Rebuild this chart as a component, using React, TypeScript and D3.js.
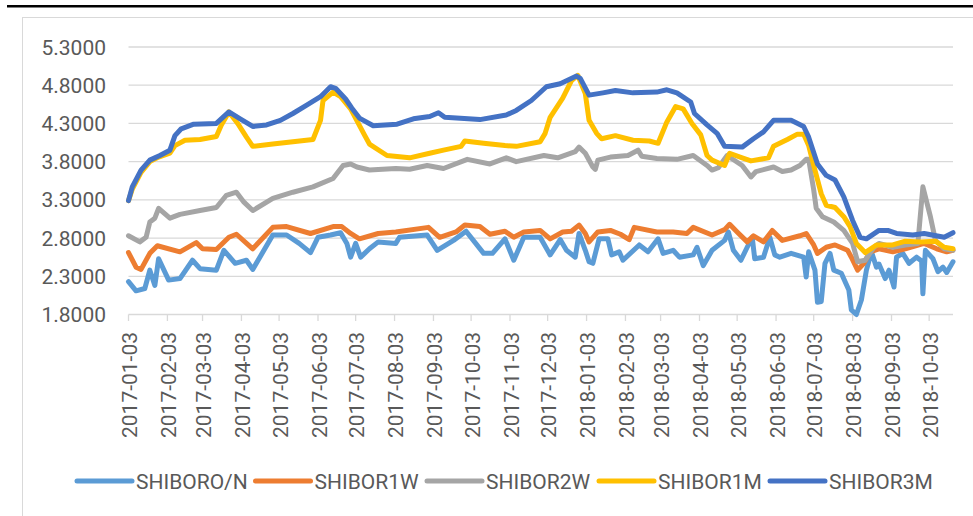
import React from "react";
import * as d3 from "d3";

type Pt = [string, number];

const seriesNames = ["SHIBORO/N", "SHIBOR1W", "SHIBOR2W", "SHIBOR1M", "SHIBOR3M"];
const seriesColors = ["#5B9BD5", "#ED7D31", "#A5A5A5", "#FFC000", "#4472C4"];
const yTicks = [1.8, 2.3, 2.8, 3.3, 3.8, 4.3, 4.8, 5.3];
const xTickDates = [
  "2017-01-03", "2017-02-03", "2017-03-03", "2017-04-03", "2017-05-03", "2017-06-03",
  "2017-07-03", "2017-08-03", "2017-09-03", "2017-10-03", "2017-11-03", "2017-12-03",
  "2018-01-03", "2018-02-03", "2018-03-03", "2018-04-03", "2018-05-03", "2018-06-03",
  "2018-07-03", "2018-08-03", "2018-09-03", "2018-10-03",
];
const dateDomain = ["2017-01-03", "2018-10-22"];

const shiborON: Pt[] = [
  ["2017-01-03", 2.23], ["2017-01-09", 2.11], ["2017-01-16", 2.14], ["2017-01-20", 2.38], ["2017-01-24", 2.18],
  ["2017-01-27", 2.53], ["2017-02-04", 2.25], ["2017-02-13", 2.27], ["2017-02-23", 2.51], ["2017-03-01", 2.40],
  ["2017-03-14", 2.38], ["2017-03-20", 2.64], ["2017-03-29", 2.47], ["2017-04-07", 2.51], ["2017-04-12", 2.39],
  ["2017-04-28", 2.84], ["2017-05-09", 2.84], ["2017-05-19", 2.73], ["2017-05-28", 2.61], ["2017-06-03", 2.81],
  ["2017-06-13", 2.84], ["2017-06-21", 2.87], ["2017-06-26", 2.73], ["2017-06-29", 2.55], ["2017-07-03", 2.73],
  ["2017-07-07", 2.55], ["2017-07-14", 2.66], ["2017-07-21", 2.75], ["2017-08-04", 2.73], ["2017-08-07", 2.81],
  ["2017-08-29", 2.84], ["2017-09-06", 2.64], ["2017-09-19", 2.77], ["2017-09-29", 2.89], ["2017-10-13", 2.60],
  ["2017-10-20", 2.60], ["2017-10-30", 2.79], ["2017-11-06", 2.51], ["2017-11-14", 2.81], ["2017-11-27", 2.81],
  ["2017-12-05", 2.58], ["2017-12-13", 2.78], ["2017-12-18", 2.64], ["2017-12-25", 2.55], ["2017-12-28", 2.86],
  ["2018-01-02", 2.64], ["2018-01-05", 2.49], ["2018-01-08", 2.47], ["2018-01-13", 2.79], ["2018-01-20", 2.79],
  ["2018-01-23", 2.58], ["2018-01-29", 2.62], ["2018-02-01", 2.51], ["2018-02-14", 2.71], ["2018-02-21", 2.62],
  ["2018-03-01", 2.79], ["2018-03-05", 2.60], ["2018-03-13", 2.64], ["2018-03-18", 2.55], ["2018-03-29", 2.58],
  ["2018-04-01", 2.68], ["2018-04-06", 2.44], ["2018-04-13", 2.64], ["2018-04-23", 2.77], ["2018-04-26", 2.88],
  ["2018-04-30", 2.64], ["2018-05-06", 2.51], ["2018-05-11", 2.68], ["2018-05-15", 2.81], ["2018-05-17", 2.53],
  ["2018-05-24", 2.55], ["2018-05-29", 2.81], ["2018-06-02", 2.58], ["2018-06-06", 2.55], ["2018-06-15", 2.60],
  ["2018-06-25", 2.55], ["2018-06-27", 2.29], ["2018-06-29", 2.62], ["2018-07-04", 2.38], ["2018-07-06", 1.96],
  ["2018-07-09", 1.97], ["2018-07-12", 2.47], ["2018-07-16", 2.60], ["2018-07-19", 2.38], ["2018-07-25", 2.34],
  ["2018-07-31", 2.12], ["2018-08-02", 1.86], ["2018-08-06", 1.80], ["2018-08-10", 1.99], ["2018-08-14", 2.38],
  ["2018-08-18", 2.62], ["2018-08-22", 2.42], ["2018-08-24", 2.46], ["2018-08-29", 2.27], ["2018-09-01", 2.38],
  ["2018-09-05", 2.16], ["2018-09-07", 2.55], ["2018-09-12", 2.60], ["2018-09-17", 2.47], ["2018-09-23", 2.55],
  ["2018-09-27", 2.50], ["2018-09-28", 2.07], ["2018-09-30", 2.64], ["2018-10-06", 2.53], ["2018-10-10", 2.36],
  ["2018-10-14", 2.42], ["2018-10-17", 2.35], ["2018-10-22", 2.49],
];

const shibor1W: Pt[] = [
  ["2017-01-03", 2.61], ["2017-01-09", 2.42], ["2017-01-13", 2.39], ["2017-01-20", 2.60], ["2017-01-26", 2.70],
  ["2017-02-13", 2.62], ["2017-02-26", 2.74], ["2017-03-03", 2.66], ["2017-03-14", 2.65], ["2017-03-24", 2.81],
  ["2017-03-30", 2.85], ["2017-04-12", 2.66], ["2017-04-28", 2.94], ["2017-05-09", 2.95], ["2017-05-28", 2.86],
  ["2017-06-15", 2.95], ["2017-06-22", 2.95], ["2017-06-29", 2.86], ["2017-07-06", 2.79], ["2017-07-21", 2.86],
  ["2017-08-04", 2.88], ["2017-08-30", 2.94], ["2017-09-08", 2.81], ["2017-09-21", 2.88], ["2017-09-28", 2.97],
  ["2017-10-10", 2.95], ["2017-10-18", 2.85], ["2017-10-30", 2.89], ["2017-11-06", 2.81], ["2017-11-14", 2.88],
  ["2017-11-27", 2.90], ["2017-12-05", 2.79], ["2017-12-15", 2.88], ["2017-12-22", 2.89], ["2017-12-28", 2.97],
  ["2018-01-02", 2.86], ["2018-01-05", 2.75], ["2018-01-12", 2.88], ["2018-01-22", 2.90], ["2018-01-30", 2.85],
  ["2018-02-06", 2.78], ["2018-02-10", 2.94], ["2018-02-28", 2.88], ["2018-03-13", 2.88], ["2018-03-24", 2.86],
  ["2018-03-29", 2.94], ["2018-04-13", 2.84], ["2018-04-23", 2.91], ["2018-04-27", 2.98], ["2018-05-03", 2.88],
  ["2018-05-11", 2.75], ["2018-05-16", 2.83], ["2018-05-24", 2.75], ["2018-05-31", 2.90], ["2018-06-08", 2.77],
  ["2018-06-22", 2.83], ["2018-06-27", 2.86], ["2018-07-03", 2.71], ["2018-07-06", 2.60], ["2018-07-13", 2.68],
  ["2018-07-20", 2.71], ["2018-07-30", 2.64], ["2018-08-02", 2.55], ["2018-08-07", 2.38], ["2018-08-12", 2.47],
  ["2018-08-17", 2.62], ["2018-08-24", 2.66], ["2018-09-04", 2.62], ["2018-09-14", 2.66], ["2018-09-29", 2.73],
  ["2018-10-09", 2.66], ["2018-10-17", 2.62], ["2018-10-22", 2.64],
];

const shibor2W: Pt[] = [
  ["2017-01-03", 2.83], ["2017-01-12", 2.75], ["2017-01-17", 2.81], ["2017-01-20", 3.01], ["2017-01-24", 3.06],
  ["2017-01-27", 3.19], ["2017-02-05", 3.06], ["2017-02-13", 3.11], ["2017-03-01", 3.16], ["2017-03-14", 3.20],
  ["2017-03-22", 3.36], ["2017-03-30", 3.40], ["2017-04-05", 3.27], ["2017-04-12", 3.16], ["2017-04-28", 3.32],
  ["2017-05-14", 3.40], ["2017-05-30", 3.47], ["2017-06-15", 3.58], ["2017-06-23", 3.75], ["2017-06-29", 3.77],
  ["2017-07-04", 3.73], ["2017-07-14", 3.69], ["2017-08-04", 3.71], ["2017-08-15", 3.70], ["2017-08-29", 3.75],
  ["2017-09-11", 3.71], ["2017-09-30", 3.83], ["2017-10-18", 3.77], ["2017-10-31", 3.85], ["2017-11-08", 3.80],
  ["2017-11-30", 3.88], ["2017-12-11", 3.85], ["2017-12-25", 3.93], ["2017-12-28", 3.99], ["2018-01-02", 3.91],
  ["2018-01-08", 3.73], ["2018-01-10", 3.70], ["2018-01-12", 3.82], ["2018-01-22", 3.86], ["2018-02-05", 3.88],
  ["2018-02-13", 3.95], ["2018-02-16", 3.87], ["2018-02-28", 3.84], ["2018-03-16", 3.83], ["2018-03-29", 3.88],
  ["2018-04-09", 3.75], ["2018-04-13", 3.69], ["2018-04-18", 3.72], ["2018-04-25", 3.88], ["2018-05-07", 3.75],
  ["2018-05-14", 3.60], ["2018-05-18", 3.67], ["2018-06-01", 3.73], ["2018-06-08", 3.67], ["2018-06-15", 3.69],
  ["2018-06-22", 3.75], ["2018-06-27", 3.83], ["2018-06-29", 3.83], ["2018-07-03", 3.43], ["2018-07-05", 3.19],
  ["2018-07-10", 3.08], ["2018-07-19", 3.01], ["2018-07-27", 2.90], ["2018-08-03", 2.73], ["2018-08-07", 2.49],
  ["2018-08-13", 2.51], ["2018-08-20", 2.68], ["2018-08-24", 2.73], ["2018-09-04", 2.68], ["2018-09-14", 2.71],
  ["2018-09-24", 2.73], ["2018-09-28", 3.47], ["2018-10-04", 3.08], ["2018-10-08", 2.77], ["2018-10-15", 2.66],
  ["2018-10-22", 2.64],
];

const shibor1M: Pt[] = [
  ["2017-01-03", 3.29], ["2017-01-06", 3.44], ["2017-01-13", 3.66], ["2017-01-20", 3.80], ["2017-01-27", 3.86],
  ["2017-02-05", 3.91], ["2017-02-09", 4.01], ["2017-02-17", 4.08], ["2017-03-01", 4.09], ["2017-03-14", 4.13],
  ["2017-03-18", 4.28], ["2017-03-24", 4.45], ["2017-03-31", 4.30], ["2017-04-07", 4.12], ["2017-04-12", 4.00],
  ["2017-04-28", 4.03], ["2017-05-30", 4.09], ["2017-06-05", 4.34], ["2017-06-07", 4.60], ["2017-06-15", 4.71],
  ["2017-06-21", 4.65], ["2017-06-29", 4.49], ["2017-07-10", 4.15], ["2017-07-14", 4.03], ["2017-07-28", 3.88],
  ["2017-08-15", 3.85], ["2017-08-31", 3.91], ["2017-09-11", 3.95], ["2017-09-25", 4.00], ["2017-09-28", 4.07],
  ["2017-10-13", 4.04], ["2017-10-30", 4.01], ["2017-11-08", 4.00], ["2017-11-27", 4.06], ["2017-12-01", 4.17],
  ["2017-12-05", 4.38], ["2017-12-15", 4.63], ["2017-12-22", 4.86], ["2017-12-27", 4.93], ["2018-01-02", 4.69],
  ["2018-01-05", 4.34], ["2018-01-11", 4.17], ["2018-01-15", 4.10], ["2018-01-26", 4.14], ["2018-02-09", 4.08],
  ["2018-02-22", 4.07], ["2018-03-01", 4.04], ["2018-03-08", 4.32], ["2018-03-15", 4.52], ["2018-03-21", 4.49],
  ["2018-03-28", 4.30], ["2018-04-04", 4.15], ["2018-04-09", 3.88], ["2018-04-13", 3.82], ["2018-04-23", 3.75],
  ["2018-04-27", 3.91], ["2018-05-07", 3.85], ["2018-05-14", 3.81], ["2018-05-28", 3.85], ["2018-06-01", 4.00],
  ["2018-06-12", 4.09], ["2018-06-20", 4.16], ["2018-06-25", 4.16], ["2018-06-29", 4.01], ["2018-07-04", 3.69],
  ["2018-07-09", 3.38], ["2018-07-13", 3.23], ["2018-07-20", 3.20], ["2018-07-27", 3.08], ["2018-08-01", 2.95],
  ["2018-08-06", 2.73], ["2018-08-13", 2.61], ["2018-08-22", 2.71], ["2018-09-04", 2.71], ["2018-09-14", 2.76],
  ["2018-09-26", 2.75], ["2018-10-08", 2.76], ["2018-10-15", 2.68], ["2018-10-22", 2.66],
];

const shibor3M: Pt[] = [
  ["2017-01-03", 3.29], ["2017-01-06", 3.47], ["2017-01-13", 3.69], ["2017-01-20", 3.82], ["2017-01-28", 3.88],
  ["2017-02-05", 3.95], ["2017-02-09", 4.14], ["2017-02-14", 4.23], ["2017-02-24", 4.29], ["2017-03-14", 4.30],
  ["2017-03-24", 4.45], ["2017-04-02", 4.36], ["2017-04-12", 4.26], ["2017-04-23", 4.28], ["2017-05-04", 4.34],
  ["2017-05-14", 4.43], ["2017-05-25", 4.54], ["2017-06-05", 4.65], ["2017-06-13", 4.78], ["2017-06-17", 4.76],
  ["2017-06-25", 4.62], ["2017-06-30", 4.50], ["2017-07-06", 4.37], ["2017-07-17", 4.27], ["2017-08-05", 4.29],
  ["2017-08-18", 4.36], ["2017-08-31", 4.39], ["2017-09-07", 4.44], ["2017-09-12", 4.38], ["2017-10-10", 4.35],
  ["2017-10-31", 4.41], ["2017-11-08", 4.47], ["2017-11-20", 4.60], ["2017-12-02", 4.78], ["2017-12-13", 4.82],
  ["2017-12-26", 4.92], ["2017-12-29", 4.89], ["2018-01-05", 4.67], ["2018-01-16", 4.70], ["2018-01-26", 4.73],
  ["2018-02-09", 4.70], ["2018-02-28", 4.71], ["2018-03-08", 4.74], ["2018-03-16", 4.70], ["2018-03-27", 4.58],
  ["2018-03-30", 4.43], ["2018-04-09", 4.28], ["2018-04-17", 4.17], ["2018-04-23", 4.00], ["2018-05-07", 3.99],
  ["2018-05-16", 4.10], ["2018-05-24", 4.19], ["2018-06-01", 4.34], ["2018-06-15", 4.34], ["2018-06-25", 4.26],
  ["2018-06-29", 4.12], ["2018-07-06", 3.77], ["2018-07-13", 3.62], ["2018-07-20", 3.56], ["2018-07-27", 3.34],
  ["2018-08-03", 3.03], ["2018-08-09", 2.81], ["2018-08-14", 2.79], ["2018-08-24", 2.90], ["2018-08-31", 2.90],
  ["2018-09-07", 2.86], ["2018-09-20", 2.84], ["2018-09-29", 2.86], ["2018-10-15", 2.81], ["2018-10-22", 2.87],
];

const seriesData: Pt[][] = [shiborON, shibor1W, shibor2W, shibor1M, shibor3M];

// layout
const W = 973;
const H = 516;
const plotLeft = 128.5;
const plotRight = 953;
const plotTop = 47;
const plotBottom = 314.5;
const legendY = 481;
const legendStarts = [77, 255.5, 427, 599, 770];
const legendLineLen = 55;
const FONT = "Roboto, 'Liberation Sans', Arial, sans-serif";
const TEXT = "#595959";
const GRID = "#d9d9d9";

const parse = d3.timeParse("%Y-%m-%d");

export default function App() {
  const x = d3
    .scaleTime()
    .domain(dateDomain.map((d) => parse(d) as Date))
    .range([plotLeft, plotRight]);
  const y = d3.scaleLinear().domain([1.8, 5.3]).range([plotBottom, plotTop]);

  const line = d3
    .line<Pt>()
    .x((d) => x(parse(d[0]) as Date))
    .y((d) => y(d[1]));

  return (
    <svg
      width={W}
      height={H}
      viewBox={`0 0 ${W} ${H}`}
      style={{ position: "absolute", left: 0, top: 0, background: "#fff" }}
    >
      <rect x={0} y={0} width={W} height={H} fill="#fff" />
      <line x1={7} x2={W} y1={6.2} y2={6.2} stroke="#000" strokeWidth={2.6} />
      <rect x={22.5} y={17.5} width={W} height={H} fill="none" stroke={GRID} strokeWidth={1} />

      {yTicks.map((t) => (
        <g key={t}>
          <line
            x1={plotLeft}
            x2={plotRight}
            y1={y(t)}
            y2={y(t)}
            stroke={GRID}
            strokeWidth={1.3}
          />
          <text
            x={106}
            y={y(t)}
            dy="0.36em"
            textAnchor="end"
            fontFamily={FONT}
            fontSize={21}
            fill={TEXT}
          >
            {t.toFixed(4)}
          </text>
        </g>
      ))}

      {xTickDates.map((d) => {
        const xx = x(parse(d) as Date);
        return (
          <g key={d}>
            <line x1={xx} x2={xx} y1={plotBottom} y2={plotBottom + 6.5} stroke={GRID} strokeWidth={1.3} />
            <text
              transform={`translate(${xx + 1},${plotBottom + 17.5}) rotate(-90)`}
              dy="0.36em"
              textAnchor="end"
              fontFamily={FONT}
              fontSize={21}
              fill={TEXT}
            >
              {d}
            </text>
          </g>
        );
      })}

      {seriesData.map((s, i) => (
        <path
          key={seriesNames[i]}
          d={line(s) || ""}
          fill="none"
          stroke={seriesColors[i]}
          strokeWidth={5}
          strokeLinejoin="round"
          strokeLinecap="round"
        />
      ))}

      {seriesNames.map((n, i) => (
        <g key={n}>
          <line
            x1={legendStarts[i]}
            x2={legendStarts[i] + legendLineLen}
            y1={legendY}
            y2={legendY}
            stroke={seriesColors[i]}
            strokeWidth={5}
            strokeLinecap="round"
          />
          <text
            x={legendStarts[i] + legendLineLen + 4}
            y={legendY}
            dy="0.36em"
            fontFamily={FONT}
            fontSize={21}
            fill={TEXT}
          >
            {n}
          </text>
        </g>
      ))}
    </svg>
  );
}
